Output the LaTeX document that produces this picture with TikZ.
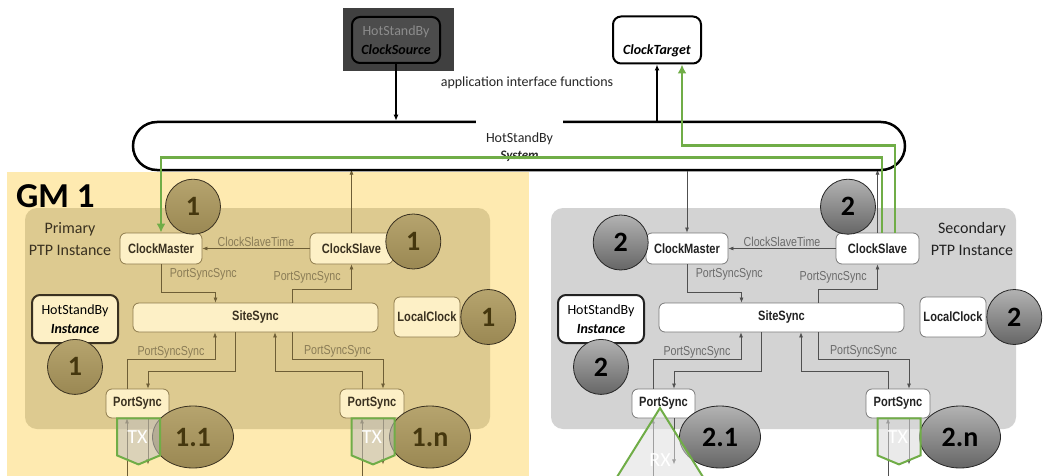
\documentclass[tikz,border=0pt]{standalone}
\usepackage{fontspec}
\setmainfont{Carlito}
\newfontfamily\narrowfont[FakeStretch=0.82]{Liberation Sans}
\usepackage{tikz}
\usetikzlibrary{arrows.meta,shapes.geometric,positioning}

\definecolor{gmyellow}{HTML}{FEEAB0}
\definecolor{gmtan}{HTML}{DDCA90}
\definecolor{boxa}{HTML}{FDF0C6}
\definecolor{bordera}{HTML}{8E7B4E}
\definecolor{texta}{HTML}{3A3120}
\definecolor{linea}{HTML}{6E5E36}
\definecolor{labela}{HTML}{8A7C56}
\definecolor{numtopa}{HTML}{B6A46E}
\definecolor{numbota}{HTML}{9A8853}
\definecolor{numtexta}{HTML}{45370E}
\definecolor{stbgray}{HTML}{D3D3D3}
\definecolor{borderb}{HTML}{7A7A7A}
\definecolor{textb}{HTML}{222222}
\definecolor{lineb}{HTML}{505050}
\definecolor{labelb}{HTML}{6A6A6A}
\definecolor{srcgray}{HTML}{404040}
\definecolor{hsgreen}{HTML}{70AD47}
\colorlet{bxfill}{white}\colorlet{bxdraw}{black}\colorlet{bxtext}{black}
\colorlet{bxline}{black}\colorlet{bxlabel}{gray}

\tikzset{
  fn/.style={rectangle, rounded corners=6pt, draw=bxdraw, fill=bxfill, line width=0.8pt,
    text=bxtext, inner sep=2pt, font=\narrowfont\bfseries\fontsize{13.5}{15}\selectfont},
  sig/.style={draw=bxline, line width=0.7pt, -{Latex[length=5pt,width=4pt]}},
  siglabel/.style={text=bxlabel, inner sep=1.5pt, font=\narrowfont\fontsize{13}{14}\selectfont},
  hsb/.style={rectangle, rounded corners=8pt, draw=bxtext, fill=bxfill, line width=2pt,
    align=center, inner sep=1pt, font=\fontsize{14}{19}\selectfont},
  num/.style={circle, line width=0.8pt, minimum size=55pt, inner sep=0pt,
    font=\bfseries\fontsize{28}{28}\selectfont},
  numa/.style={num, draw=texta, top color=numtopa, bottom color=numbota, text=numtexta},
  numb/.style={num, draw=black!85, top color=black!30, bottom color=black!60, text=black},
  port/.style={ellipse, minimum width=81pt, minimum height=62pt},
  txbox/.style={draw=hsgreen, line width=2pt, fill=#1, fill opacity=0.55},
  txlabel/.style={text=white, inner sep=0pt, font=\fontsize{20}{20}\selectfont},
  call/.style={draw=black, line width=1.2pt, -{Latex[length=6pt,width=5pt]}},
  gline/.style={draw=hsgreen, line width=2.5pt, -{Latex[length=9pt,width=9pt]}},
}

\begin{document}
\begin{tikzpicture}[x=1pt,y=-1pt]
	  \useasboundingbox (0,0) rectangle (1043,476);
	  \fill[white] (0,0) rectangle (1043,476);
	  \fill[gmyellow] (7,172) rectangle (529,476);

	  % the two PTP instances
	  \foreach \p/\dx/\bgc/\fc/\dc/\tc/\lnc/\lbc in {a/0/gmtan/boxa/bordera/texta/linea/labela,
	      b/526/stbgray/white/borderb/textb/lineb/labelb}{
	  \begin{scope}[shift={(\dx,0)}, name prefix=\p-]
	    \colorlet{bxfill}{\fc}\colorlet{bxdraw}{\dc}\colorlet{bxtext}{\tc}%
	    \colorlet{bxline}{\lnc}\colorlet{bxlabel}{\lbc}%
	    \fill[fill=\bgc, rounded corners=12pt] (25,208) rectangle (490,429);

	    \node[fn, minimum width=82pt, minimum height=31pt] (cm) at (161,248.5) {ClockMaster}; %
	    \node[fn, minimum width=83pt, minimum height=31pt] (cs) at (351.5,248.5) {ClockSlave};
	    \node[fn, minimum width=245pt, minimum height=29pt] (ss) at (255.5,317.5) {SiteSync};
	    \node[fn, minimum width=66pt, minimum height=40pt] (lc) at (427,317) {LocalClock};
	    \node[fn, minimum width=63pt, minimum height=29pt] (ps1) at (137.5,403.5) {PortSync};
	    \node[fn, minimum width=64pt, minimum height=29pt] (psn) at (372,403.5) {PortSync};
	    \node[hsb, minimum width=86pt, minimum height=48pt] (hi) at (75,319) {HotStandBy\\\textbf{\textit{Instance}}};

	    \draw[sig] (cs) -- node[siglabel, above] {ClockSlaveTime} (cm); %
	    \draw[sig] (cm.south) -- node[siglabel, right=7pt, pos=0.35] {PortSyncSync} ++(0,28) -| ([xshift=-40pt]ss.north);
	    \draw[sig] ([xshift=36.5pt]ss.north) -- ++(0,-13) -| node[siglabel, left=9pt, pos=0.75] {PortSyncSync} (cs.south);
	    \draw[sig] (cs.north) -- ++(0,-63);
	    \draw[sig] ([xshift=-10.5pt]ps1.north) -- ++(0,-29) -| node[siglabel, above, pos=0.25] {PortSyncSync} ([xshift=-40.5pt]ss.south);
	    \draw[sig] ([xshift=-20.5pt]ss.south) -- ++(0,39) -| ([xshift=10.5pt]ps1.north);
	    \draw[sig] ([xshift=36.5pt]ss.south) -- ++(0,27) -| node[siglabel, above, pos=0.25] {PortSyncSync} ([xshift=11pt]psn.north);
	    \draw[sig] ([xshift=-10pt]psn.north) -- ++(0,-17) -| ([xshift=19.5pt]ss.south);
	    \draw[sig] ([xshift=-10.5pt]ps1.south |- 0,476) -- ([xshift=-10.5pt]ps1.south);
	    \draw[sig] ([xshift=10.5pt]ps1.south) -- ++(0,46);
	    \draw[sig] ([xshift=-10pt]psn.south |- 0,476) -- ([xshift=-10pt]psn.south);
	    \draw[sig] ([xshift=11pt]psn.south) -- ++(0,46);
	  \end{scope}
	  }

	  \node[anchor=base west, inner sep=0pt, font=\bfseries\fontsize{35}{35}\selectfont] (gm) at (16,207) {GM 1};
	  \node[align=center, text=texta, font=\fontsize{16}{22}\selectfont] (prim) at (70,239) {Primary\\PTP Instance};
	  \node[align=center, text=textb, font=\fontsize{16}{22}\selectfont] (sec) at (972,239) {Secondary\\PTP Instance};

	  % application side
	  \fill[srcgray] (343,8) rectangle (454,71);
	  \node[rectangle, rounded corners=8pt, draw=black, line width=2pt, fill=black!70, align=center,
	        minimum width=88pt, minimum height=46pt, inner sep=1pt, font=\fontsize{14}{19}\selectfont]
	        (clocksrc) at (396,40) {\textcolor{black!45}{HotStandBy}\\\textbf{\textit{ClockSource}}};
	  \node[rectangle, rounded corners=8pt, draw=black, line width=2pt, fill=white, align=center,
	        minimum width=88pt, minimum height=47pt, inner sep=1pt, font=\fontsize{14}{19}\selectfont]
	        (clocktgt) at (657,40) {\strut\\\textbf{\textit{ClockTarget}}};
	  \node[text=black!85, font=\fontsize{14}{16}\selectfont] (api) at (527,83) {application interface functions};

	  \node[rectangle, rounded corners=24pt, draw=black, line width=2.5pt, fill=white,
	        minimum width=772pt, minimum height=48pt] (sys) at (519,146) {};
	  \node[anchor=north, fill=white, minimum width=87pt, minimum height=38pt, text=black!85,
	        font=\fontsize{14}{16}\selectfont] (sysname) at (519.5,119.5) {HotStandBy};
	  \node[text=black!85, inner sep=0pt, font=\bfseries\itshape\fontsize{13}{13}\selectfont] (sysrole) at (519.5,156) {System};

	  \draw[call] (clocksrc) -- (clocksrc |- sys.north);
	  \draw[call] (clocktgt.south |- sys.north) -- (clocktgt);
	  \draw[sig, draw=lineb] (b-cm.north |- sys.south) -- (b-cm);

	  % instance numbers
	  \node[numa, above=-2pt of a-cm, xshift=32pt] (a-ncm) {1};
	  \node[numa, right=-8pt of a-cs, yshift=7pt] (a-ncs) {1};
	  \node[numa, right=0pt of a-lc] (a-nlc) {1};
	  \node[numa, below=-5pt of a-hi] (a-nhi) {1};
	  \node[numb, left=-3pt of b-cm, yshift=6pt] (b-ncm) {2};
	  \node[numb, above=-2pt of b-cs, xshift=-29.5pt] (b-ncs) {2};
	  \node[numb, right=0pt of b-lc] (b-nlc) {2};
	  \node[numb, below=-5pt of b-hi] (b-nhi) {2};

	  \node[numa, port] (a-n11) at (193,437) {1.1};
	  \node[numa, port] (a-n1n) at (430,437) {1.n};
	  \node[numb, port] (b-n21) at (720,437) {2.1};
	  \node[numb, port] (b-n2n) at (960,437) {2.n};

	  % ports
	  \draw[txbox=black!25] ([xshift=-20.5pt]a-ps1.south) -- ++(43,0) -- ++(0,37) -- ++(-21.5,9) -- ++(-21.5,-9) -- cycle;
	  \node[txlabel] (a-tx1) at ([yshift=-19pt]a-ps1.south) {TX};
	  \draw[txbox=black!25] ([xshift=-20.5pt]a-psn.south) -- ++(43,0) -- ++(0,37) -- ++(-21.5,9) -- ++(-21.5,-9) -- cycle;
	  \node[txlabel] (a-txn) at ([yshift=-19pt]a-psn.south) {TX};
	  \draw[txbox=black!15] ([xshift=-20.5pt]b-psn.south) -- ++(43,0) -- ++(0,37) -- ++(-21.5,9) -- ++(-21.5,-9) -- cycle;
	  \node[txlabel] (b-txn) at ([yshift=-19pt]b-psn.south) {TX};
	  \draw[txbox=black!12] (660,408) -- (703,477) -- (617,477) -- cycle;
	  \node[txlabel] (b-rx1) at (660,460) {RX};

	  % redundant paths
	  \draw[gline] ([xshift=4.5pt]b-cs.north) -- ++(0,-75) -| (a-cm.north);
	  \draw[gline] ([xshift=17.5pt]b-cs.north) -- ++(0,-87) -| ([xshift=25pt]clocktgt.south);
\end{tikzpicture}
\end{document}
